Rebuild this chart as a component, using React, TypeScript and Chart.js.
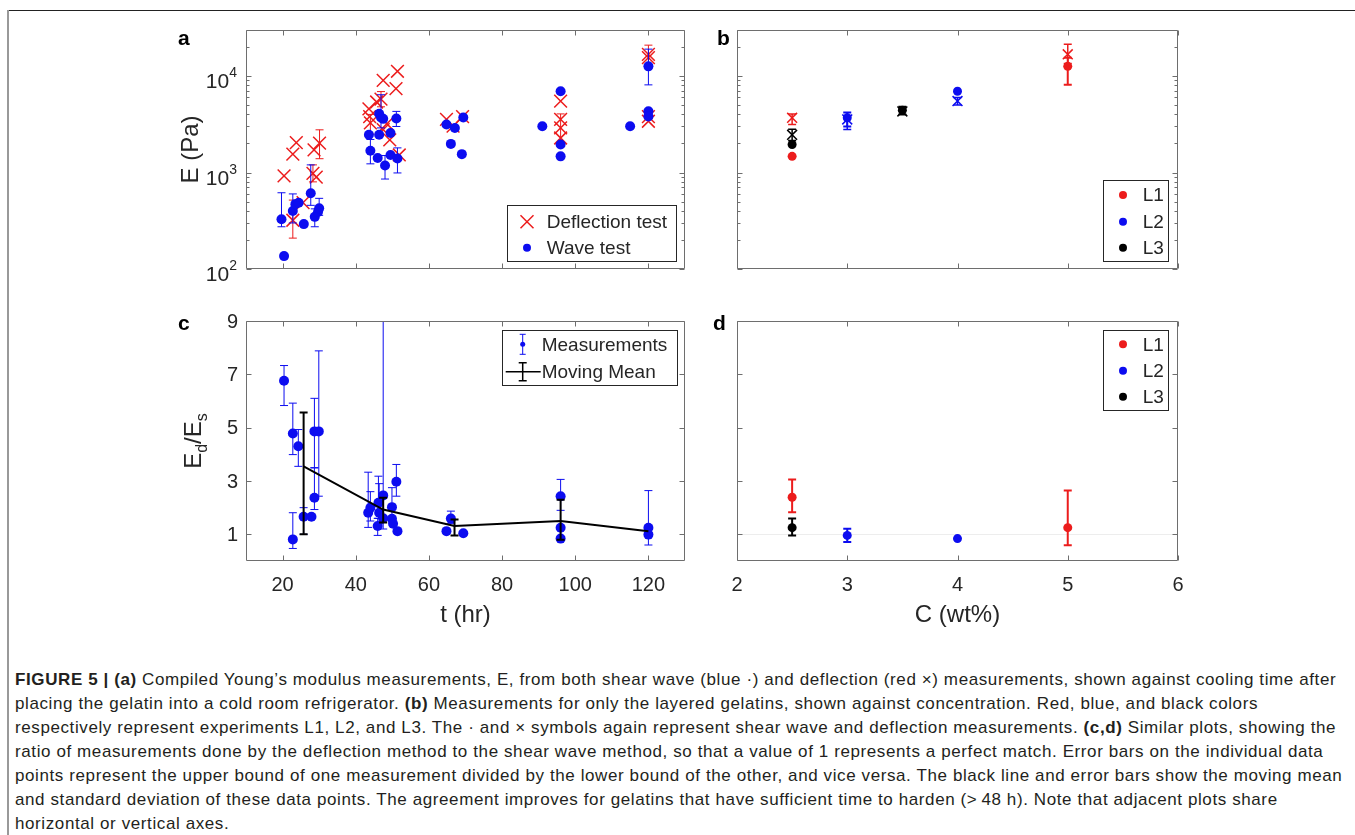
import React, { useEffect, useRef } from "react";
import { Chart, registerables } from "chart.js";

Chart.register(...registerables);

const FONT = '"Liberation Sans", Arial, Helvetica, sans-serif';
const RED = "#ec1c1c";
const BLUE = "#0c0cf0";
const BLACK = "#000000";
const AXIS = "#6e6e6e";
const TXT = "#262626";

// ---------- Panel a : E vs t ----------
const waveT = [19.7, 20.4, 22.8, 23.5, 24.4, 25.8, 27.7, 28.8, 29.7, 30.0, 43.6, 44.0, 46.0, 46.4, 46.9, 46.4, 47.5, 48.0, 49.5, 49.5, 51.1, 51.4, 64.8, 67.1, 66.0, 69.0, 69.4, 91.0, 96.0, 96.0, 96.0, 115.0, 120.0, 120.0, 120.0];
const waveE = [328, 136, 400, 470, 487, 292, 610, 347, 391, 425, 2460, 1680, 1415, 4060, 3720, 2460, 3600, 1180, 1520, 2570, 3630, 1400, 3140, 2890, 1980, 1550, 3720, 3020, 6950, 1950, 1470, 3020, 12600, 4320, 3800];
const waveLo = [274, null, 300, null, null, null, 457, 274, null, 360, null, 1230, null, null, 2900, null, null, 856, null, null, 3000, 990, null, null, null, null, null, null, null, null, null, null, 8100, null, null];
const waveHi = [617, null, 600, null, null, null, 1200, 420, null, 540, null, 2200, null, null, 6400, null, null, 1500, null, null, 4300, 1800, null, null, null, null, null, null, null, null, null, null, 19000, null, null];

const deflT = [20.4, 22.8, 23.75, 22.8, 25.6, 28.3, 29.2, 28.6, 30.1, 43.6, 43.8, 44.0, 45.7, 46.9, 47.5, 51.0, 51.4, 47.5, 49.3, 51.9, 48.5, 64.8, 66.6, 69.2, 96.0, 96.0, 96.0, 96.0, 120.0, 120.0, 120.0, 120.0];
const deflE = [923, 1550, 2040, 320, 487, 980, 895, 1720, 2020, 4570, 3800, 3270, 5380, 5760, 9000, 7400, 11200, 2780, 2180, 1520, 3200, 3550, 3020, 3800, 5500, 3550, 2280, 2900, 16800, 15500, 3800, 3400];
const deflLo = [null, null, null, 209, null, 800, null, null, 1390, null, null, 2500, null, 4800, null, null, null, null, null, null, null, null, null, null, null, null, null, 2020, 13000, null, null, null];
const deflHi = [null, null, null, 518, null, 1200, null, null, 2770, null, null, 4000, null, 6900, null, null, null, null, null, null, null, null, null, null, null, null, null, 4050, 20900, null, null, null];

// ---------- Panel b : E vs C ----------
const bL1WaveC = [2.5, 5];
const bL1WaveE = [1470, 12600];
const bL1WaveLo = [null, 8100];
const bL1WaveHi = [null, 15500];
const bL1DeflC = [2.5, 5];
const bL1DeflE = [3690, 16800];
const bL1DeflLo = [3150, 13500];
const bL1DeflHi = [4050, 21400];
const bL2WaveC = [3, 4];
const bL2WaveE = [3690, 6950];
const bL2WaveLo = [3000, null];
const bL2WaveHi = [4200, null];
const bL2DeflC = [3, 4];
const bL2DeflE = [3550, 5500];
const bL2DeflLo = [2790, 5000];
const bL2DeflHi = [3900, 6000];
const bL3WaveC = [2.5, 3.5];
const bL3WaveE = [1950, 4430];
const bL3WaveLo = [null, 4000];
const bL3WaveHi = [null, 4800];
const bL3DeflC = [2.5, 3.5];
const bL3DeflE = [2460, 4300];
const bL3DeflLo = [2150, null];
const bL3DeflHi = [2800, null];

// ---------- Panel c : Ed/Es vs t ----------
const cT = [20.4, 22.8, 22.8, 24.3, 25.75, 27.9, 28.7, 28.7, 29.9, 43.4, 44.0, 46.0, 46.2, 46.4, 47.5, 47.5, 49.9, 49.9, 50.2, 51.1, 51.4, 64.8, 66.0, 69.4, 96.0, 96.0, 96.0, 120.0, 120.0];
const cV = [6.76, 0.81, 4.78, 4.30, 1.66, 1.66, 2.37, 4.86, 4.86, 1.81, 2.00, 1.31, 2.18, 1.81, 2.46, 1.60, 2.02, 1.58, 1.40, 2.97, 1.12, 1.12, 1.59, 1.04, 2.43, 1.25, 0.84, 1.25, 0.99];
const cLo = [5.83, 0.47, 3.99, 3.55, 1.00, null, 1.93, 3.50, 2.43, 1.26, 1.50, 0.96, 1.60, 1.40, 1.20, null, 1.50, null, null, 2.43, null, null, 1.40, null, 1.90, null, null, 0.60, null];
const cHi = [7.33, 1.81, 5.92, 4.93, 2.00, null, 3.49, 6.10, 7.88, 3.33, 2.60, 1.60, 3.18, 2.90, 12.0, null, 2.75, null, null, 3.62, null, null, 1.87, null, 3.06, null, null, 2.64, null];
const mmT = [25.75, 47.5, 67.0, 96.0, 120.0];
const mmV = [3.55, 1.93, 1.31, 1.50, 1.12];
const mmLo = [1.00, 1.44, 0.96, 0.80, null];
const mmHi = [5.57, 2.37, 1.56, 2.30, null];

// ---------- Panel d : Ed/Es vs C ----------
const dL1C = [2.5, 5];
const dL1V = [2.39, 1.25];
const dL1Lo = [1.83, 0.59];
const dL1Hi = [3.06, 2.64];
const dL2C = [3, 4];
const dL2V = [0.96, 0.84];
const dL2Lo = [0.71, null];
const dL2Hi = [1.21, null];
const dL3C = [2.5];
const dL3V = [1.25];
const dL3Lo = [0.96];
const dL3Hi = [1.59];

// ---------- ticks ----------
const timeTicks = [20, 40, 60, 80, 100, 120];
const timeTickLabels = ["20", "40", "60", "80", "100", "120"];
const concTicks = [2, 3, 4, 5, 6];
const concTickLabels = ["2", "3", "4", "5", "6"];
const ratioTicks = [1, 3, 5, 7, 9];
const ratioTickLabels = ["1", "3", "5", "7", "9"];
const modTicks = [100, 1000, 10000];
const modTickExp = ["2", "3", "4"];
const modMinor = [200, 300, 400, 500, 600, 700, 800, 900, 2000, 3000, 4000, 5000, 6000, 7000, 8000, 9000, 20000, 30000];

const pts = (xs: number[], ys: number[]) => xs.map((x, i) => ({ x, y: ys[i] }));

function dots(label: string, xs: number[], ys: number[], lo: any[], hi: any[], color: string, r: number, ew: number, cap: number) {
  return {
    label, data: pts(xs, ys), pointStyle: "circle", pointRadius: r, backgroundColor: color,
    borderColor: color, borderWidth: 0, showLine: false,
    errLo: lo, errHi: hi, errColor: color, errWidth: ew, errCap: cap,
  } as any;
}
function crosses(label: string, xs: number[], ys: number[], lo: any[], hi: any[], color: string, r: number, ew: number, cap: number) {
  return {
    label, data: pts(xs, ys), pointStyle: "crossRot", pointRadius: r, backgroundColor: color,
    borderColor: color, borderWidth: 1.5, showLine: false,
    errLo: lo, errHi: hi, errColor: color, errWidth: ew, errCap: cap,
  } as any;
}

const errorBarPlugin = {
  id: "errBars",
  beforeDatasetDraw(chart: any, args: any) {
    const ds: any = chart.data.datasets[args.index];
    if (!ds.errLo) return;
    const { ctx, chartArea: a } = chart;
    const xs = chart.scales.x, ys = chart.scales.y;
    ctx.save();
    ctx.beginPath();
    ctx.rect(a.left, a.top, a.right - a.left, a.bottom - a.top);
    ctx.clip();
    ctx.strokeStyle = ds.errColor;
    ctx.lineWidth = ds.errWidth;
    const cap = ds.errCap;
    ds.data.forEach((p: any, i: number) => {
      const lo = ds.errLo[i], hi = ds.errHi[i];
      if (lo == null || hi == null) return;
      const x = xs.getPixelForValue(p.x);
      const y1 = ys.getPixelForValue(lo), y2 = ys.getPixelForValue(hi);
      ctx.beginPath();
      ctx.moveTo(x, y1); ctx.lineTo(x, y2);
      ctx.moveTo(x - cap, y1); ctx.lineTo(x + cap, y1);
      ctx.moveTo(x - cap, y2); ctx.lineTo(x + cap, y2);
      ctx.stroke();
    });
    ctx.restore();
  },
};

type LegendItem = { kind: string; color: string; label: string };
type PanelCfg = {
  left: number; top: number; w: number; h: number;
  pad: { left: number; top: number; right: number; bottom: number };
  xMin: number; xMax: number; yMin: number; yMax: number; yLog: boolean;
  letter: string; letterPos: [number, number];
  xTicks: number[]; xTickLabels: string[] | null;
  yTicks: number[]; yMinor: number[]; yTickLabels: string[] | null; yPowExp: string[] | null;
  xTitle: string | null; yTitle: string | null;
  legend: { box: [number, number, number, number]; rows: number[]; iconX: number; textX: number; items: LegendItem[] } | null;
  unity: boolean;
  datasets: any[];
};

function drawLegendIcon(ctx: CanvasRenderingContext2D, kind: string, x: number, y: number, color: string) {
  ctx.save();
  ctx.strokeStyle = color; ctx.fillStyle = color;
  if (kind === "dot") {
    ctx.beginPath(); ctx.arc(x, y, 4, 0, Math.PI * 2); ctx.fill();
  } else if (kind === "cross") {
    const d = 6.5; ctx.lineWidth = 1.5;
    ctx.beginPath();
    ctx.moveTo(x - d, y - d); ctx.lineTo(x + d, y + d);
    ctx.moveTo(x - d, y + d); ctx.lineTo(x + d, y - d);
    ctx.stroke();
  } else if (kind === "errdot") {
    ctx.lineWidth = 1;
    ctx.beginPath();
    ctx.moveTo(x, y - 10); ctx.lineTo(x, y + 10);
    ctx.moveTo(x - 3, y - 10); ctx.lineTo(x + 3, y - 10);
    ctx.moveTo(x - 3, y + 10); ctx.lineTo(x + 3, y + 10);
    ctx.stroke();
    ctx.beginPath(); ctx.arc(x, y, 2.5, 0, Math.PI * 2); ctx.fill();
  } else if (kind === "meanline") {
    ctx.lineWidth = 1.5;
    ctx.beginPath();
    ctx.moveTo(x - 17, y); ctx.lineTo(x + 18, y);
    ctx.moveTo(x, y - 9); ctx.lineTo(x, y + 9);
    ctx.moveTo(x - 4, y - 9); ctx.lineTo(x + 4, y - 9);
    ctx.moveTo(x - 4, y + 9); ctx.lineTo(x + 4, y + 9);
    ctx.stroke();
  }
  ctx.restore();
}

function makeAxesPlugin(cfg: PanelCfg) {
  return {
    id: "matlabAxes",
    beforeDatasetsDraw(chart: any) {
      if (!cfg.unity) return;
      const { ctx, chartArea: a } = chart;
      const y = Math.round(chart.scales.y.getPixelForValue(1)) + 0.5;
      ctx.save();
      ctx.strokeStyle = "#ededed"; ctx.lineWidth = 1;
      ctx.beginPath(); ctx.moveTo(a.left, y); ctx.lineTo(a.right, y); ctx.stroke();
      ctx.restore();
    },
    afterDatasetsDraw(chart: any) {
      const { ctx, chartArea: a } = chart;
      const xs = chart.scales.x, ys = chart.scales.y;
      const L = Math.round(a.left) + 0.5, R = Math.round(a.right) - 0.5;
      const T = Math.round(a.top) + 0.5, B = Math.round(a.bottom) - 0.5;
      ctx.save();
      ctx.strokeStyle = AXIS; ctx.lineWidth = 1;
      ctx.beginPath();
      ctx.rect(L, T, R - L, B - T);
      cfg.xTicks.forEach((v) => {
        const px = Math.round(xs.getPixelForValue(v)) + 0.5;
        ctx.moveTo(px, B); ctx.lineTo(px, B - 5);
        ctx.moveTo(px, T); ctx.lineTo(px, T + 5);
      });
      cfg.yTicks.forEach((v) => {
        const py = Math.round(ys.getPixelForValue(v)) + 0.5;
        ctx.moveTo(L, py); ctx.lineTo(L + 5, py);
        ctx.moveTo(R, py); ctx.lineTo(R - 5, py);
      });
      cfg.yMinor.forEach((v) => {
        const py = Math.round(ys.getPixelForValue(v)) + 0.5;
        ctx.moveTo(L, py); ctx.lineTo(L + 3, py);
        ctx.moveTo(R, py); ctx.lineTo(R - 3, py);
      });
      ctx.stroke();

      ctx.fillStyle = TXT;
      if (cfg.xTickLabels) {
        ctx.font = `20px ${FONT}`;
        ctx.textAlign = "center"; ctx.textBaseline = "alphabetic";
        cfg.xTicks.forEach((v, i) => {
          ctx.fillText(cfg.xTickLabels![i], xs.getPixelForValue(v), a.bottom + 30);
        });
      }
      if (cfg.yTickLabels) {
        ctx.font = `20px ${FONT}`;
        ctx.textAlign = "right"; ctx.textBaseline = "middle";
        cfg.yTicks.forEach((v, i) => {
          ctx.fillText(cfg.yTickLabels![i], a.left - 8, ys.getPixelForValue(v) + 1);
        });
      }
      if (cfg.yPowExp) {
        cfg.yTicks.forEach((v, i) => {
          const py = ys.getPixelForValue(v);
          ctx.textBaseline = "alphabetic";
          ctx.font = `14px ${FONT}`;
          const e = cfg.yPowExp![i];
          const ew = ctx.measureText(e).width;
          ctx.textAlign = "left";
          ctx.fillText(e, a.left - 9 - ew, py + 1);
          ctx.font = `21px ${FONT}`;
          ctx.textAlign = "right";
          ctx.fillText("10", a.left - 9 - ew, py + 12);
        });
      }
      if (cfg.xTitle) {
        ctx.font = `24px ${FONT}`;
        ctx.textAlign = "center"; ctx.textBaseline = "alphabetic";
        ctx.fillText(cfg.xTitle, (a.left + a.right) / 2, a.bottom + 61);
      }
      if (cfg.yTitle === "E") {
        ctx.save();
        ctx.translate(a.left - 48, (a.top + a.bottom) / 2);
        ctx.rotate(-Math.PI / 2);
        ctx.font = `24px ${FONT}`;
        ctx.textAlign = "center"; ctx.textBaseline = "alphabetic";
        ctx.fillText("E (Pa)", 0, 0);
        ctx.restore();
      } else if (cfg.yTitle === "ratio") {
        const parts = [
          { t: "E", s: 24, dy: 0 },
          { t: "d", s: 16, dy: 6 },
          { t: "/", s: 24, dy: 0 },
          { t: "E", s: 24, dy: 0 },
          { t: "s", s: 16, dy: 6 },
        ];
        let total = 0;
        const widths = parts.map((p) => {
          ctx.font = `${p.s}px ${FONT}`;
          const w = ctx.measureText(p.t).width;
          total += w;
          return w;
        });
        ctx.save();
        ctx.translate(a.left - 45, (a.top + a.bottom) / 2);
        ctx.rotate(-Math.PI / 2);
        ctx.textAlign = "left"; ctx.textBaseline = "alphabetic";
        let u = -total / 2;
        parts.forEach((p, i) => {
          ctx.font = `${p.s}px ${FONT}`;
          ctx.fillText(p.t, u, p.dy);
          u += widths[i];
        });
        ctx.restore();
      }
      ctx.font = `bold 21px ${FONT}`;
      ctx.fillStyle = "#000";
      ctx.textAlign = "left"; ctx.textBaseline = "alphabetic";
      ctx.fillText(cfg.letter, cfg.letterPos[0], cfg.letterPos[1]);

      if (cfg.legend) {
        const lg = cfg.legend;
        const [bx, by, bw, bh] = lg.box;
        ctx.fillStyle = "#fff";
        ctx.fillRect(bx, by, bw, bh);
        ctx.strokeStyle = "#262626"; ctx.lineWidth = 1;
        ctx.strokeRect(bx + 0.5, by + 0.5, bw, bh);
        lg.items.forEach((it, i) => {
          drawLegendIcon(ctx, it.kind, lg.iconX, lg.rows[i], it.color);
          ctx.fillStyle = TXT;
          ctx.font = `19px ${FONT}`;
          ctx.textAlign = "left"; ctx.textBaseline = "middle";
          ctx.fillText(it.label, lg.textX, lg.rows[i] + 1);
        });
      }
      ctx.restore();
    },
  };
}

const panelA: PanelCfg = {
  left: 140, top: 12, w: 560, h: 275,
  pad: { left: 106, top: 18, right: 15, bottom: 18 },
  xMin: 10, xMax: 130, yMin: 100, yMax: 30000, yLog: true,
  letter: "a", letterPos: [38, 33],
  xTicks: timeTicks, xTickLabels: null,
  yTicks: modTicks, yMinor: modMinor, yTickLabels: null, yPowExp: modTickExp,
  xTitle: null, yTitle: "E",
  legend: {
    box: [367, 193, 169, 56], rows: [209.7, 235.7], iconX: 387, textX: 406.7,
    items: [
      { kind: "cross", color: RED, label: "Deflection test" },
      { kind: "dot", color: BLUE, label: "Wave test" },
    ],
  },
  unity: false,
  datasets: [
    dots("Wave test", waveT, waveE, waveLo, waveHi, BLUE, 5, 1, 4),
    crosses("Deflection test", deflT, deflE, deflLo, deflHi, RED, 9, 1, 4),
  ],
};

const panelB: PanelCfg = {
  left: 700, top: 12, w: 500, h: 275,
  pad: { left: 37, top: 18, right: 22, bottom: 18 },
  xMin: 2, xMax: 6, yMin: 100, yMax: 30000, yLog: true,
  letter: "b", letterPos: [17, 33],
  xTicks: concTicks, xTickLabels: null,
  yTicks: modTicks, yMinor: modMinor, yTickLabels: null, yPowExp: null,
  xTitle: null, yTitle: null,
  legend: {
    box: [403, 168, 65, 81], rows: [183, 209.7, 235.7], iconX: 423, textX: 442.7,
    items: [
      { kind: "dot", color: RED, label: "L1" },
      { kind: "dot", color: BLUE, label: "L2" },
      { kind: "dot", color: BLACK, label: "L3" },
    ],
  },
  unity: false,
  datasets: [
    dots("L1", bL1WaveC, bL1WaveE, bL1WaveLo, bL1WaveHi, RED, 4.5, 2, 4),
    crosses("L1 defl", bL1DeflC, bL1DeflE, bL1DeflLo, bL1DeflHi, RED, 7, 1.5, 4),
    dots("L2", bL2WaveC, bL2WaveE, bL2WaveLo, bL2WaveHi, BLUE, 4.5, 2, 4),
    crosses("L2 defl", bL2DeflC, bL2DeflE, bL2DeflLo, bL2DeflHi, BLUE, 7, 1.5, 4),
    dots("L3", bL3WaveC, bL3WaveE, bL3WaveLo, bL3WaveHi, BLACK, 4.5, 2, 4),
    crosses("L3 defl", bL3DeflC, bL3DeflE, bL3DeflLo, bL3DeflHi, BLACK, 7, 1.5, 4),
  ],
};

const panelC: PanelCfg = {
  left: 140, top: 295, w: 560, h: 340,
  pad: { left: 106, top: 26, right: 15, bottom: 74 },
  xMin: 10, xMax: 130, yMin: 0, yMax: 9, yLog: false,
  letter: "c", letterPos: [38, 35],
  xTicks: timeTicks, xTickLabels: timeTickLabels,
  yTicks: ratioTicks, yMinor: [], yTickLabels: ratioTickLabels, yPowExp: null,
  xTitle: "t (hr)", yTitle: "ratio",
  legend: {
    box: [362, 35, 175, 55], rows: [49.3, 76.7], iconX: 382.7, textX: 401.7,
    items: [
      { kind: "errdot", color: BLUE, label: "Measurements" },
      { kind: "meanline", color: BLACK, label: "Moving Mean" },
    ],
  },
  unity: false,
  datasets: [
    {
      label: "Moving Mean", data: pts(mmT, mmV), showLine: true, borderColor: BLACK,
      backgroundColor: BLACK, borderWidth: 2, pointRadius: 0,
      errLo: mmLo, errHi: mmHi, errColor: BLACK, errWidth: 2, errCap: 4,
    } as any,
    dots("Measurements", cT, cV, cLo, cHi, BLUE, 5, 1, 4),
  ],
};

const panelD: PanelCfg = {
  left: 700, top: 295, w: 500, h: 340,
  pad: { left: 37, top: 26, right: 22, bottom: 74 },
  xMin: 2, xMax: 6, yMin: 0, yMax: 9, yLog: false,
  letter: "d", letterPos: [13, 35],
  xTicks: concTicks, xTickLabels: concTickLabels,
  yTicks: ratioTicks, yMinor: [], yTickLabels: null, yPowExp: null,
  xTitle: "C (wt%)", yTitle: null,
  legend: {
    box: [403, 35, 65, 80], rows: [49.3, 75.7, 101.7], iconX: 423, textX: 442.7,
    items: [
      { kind: "dot", color: RED, label: "L1" },
      { kind: "dot", color: BLUE, label: "L2" },
      { kind: "dot", color: BLACK, label: "L3" },
    ],
  },
  unity: true,
  datasets: [
    dots("L1", dL1C, dL1V, dL1Lo, dL1Hi, RED, 4.5, 2, 4),
    dots("L2", dL2C, dL2V, dL2Lo, dL2Hi, BLUE, 4.5, 2, 4),
    dots("L3", dL3C, dL3V, dL3Lo, dL3Hi, BLACK, 4.5, 2, 4),
  ],
};

function Panel({ cfg }: { cfg: PanelCfg }) {
  const ref = useRef<HTMLCanvasElement>(null);
  useEffect(() => {
    const chart = new Chart(ref.current as HTMLCanvasElement, {
      type: "scatter",
      data: { datasets: cfg.datasets.map((d) => ({ ...d })) },
      options: {
        animation: false,
        responsive: false,
        maintainAspectRatio: false,
        devicePixelRatio: 1,
        events: [],
        layout: { padding: cfg.pad },
        plugins: { legend: { display: false }, tooltip: { enabled: false } },
        scales: {
          x: { type: "linear", min: cfg.xMin, max: cfg.xMax, display: false },
          y: { type: cfg.yLog ? "logarithmic" : "linear", min: cfg.yMin, max: cfg.yMax, display: false },
        },
      } as any,
      plugins: [errorBarPlugin as any, makeAxesPlugin(cfg) as any],
    });
    return () => chart.destroy();
  }, []);
  return (
    <canvas
      ref={ref}
      width={cfg.w}
      height={cfg.h}
      style={{ position: "absolute", left: cfg.left, top: cfg.top, width: cfg.w, height: cfg.h }}
    />
  );
}

const captionLines: React.ReactNode[] = [
  <><b>FIGURE 5 | (a)</b> Compiled Young’s modulus measurements, E, from both shear wave (blue ·) and deflection (red ×) measurements, shown against cooling time after</>,
  <>placing the gelatin into a cold room refrigerator. <b>(b)</b> Measurements for only the layered gelatins, shown against concentration. Red, blue, and black colors</>,
  <>respectively represent experiments L1, L2, and L3. The · and × symbols again represent shear wave and deflection measurements. <b>(c,d)</b> Similar plots, showing the</>,
  <>ratio of measurements done by the deflection method to the shear wave method, so that a value of 1 represents a perfect match. Error bars on the individual data</>,
  <>points represent the upper bound of one measurement divided by the lower bound of the other, and vice versa. The black line and error bars show the moving mean</>,
  <>and standard deviation of these data points. The agreement improves for gelatins that have sufficient time to harden (&gt;{"\u2009"}48 h). Note that adjacent plots share</>,
  <>horizontal or vertical axes.</>,
];

export default function App() {
  return (
    <div style={{ position: "absolute", left: 0, top: 0, width: 1355, height: 835, background: "#fff", overflow: "hidden" }}>
      <div style={{ position: "absolute", left: 8, top: 10, width: 1347, height: 1, background: "#222" }} />
      <div style={{ position: "absolute", left: 7, top: 10, width: 2, height: 825, background: "#999" }} />
      <Panel cfg={panelA} />
      <Panel cfg={panelB} />
      <Panel cfg={panelC} />
      <Panel cfg={panelD} />
      {captionLines.map((ln, i) => (
        <div
          key={i}
          style={{
            position: "absolute", left: 15, top: 680 - 12 + 24 * i, height: 24, lineHeight: "24px",
            whiteSpace: "nowrap", fontFamily: FONT, fontSize: 17, letterSpacing: "0.6px", color: "#231f20",
          }}
        >
          {ln}
        </div>
      ))}
    </div>
  );
}
